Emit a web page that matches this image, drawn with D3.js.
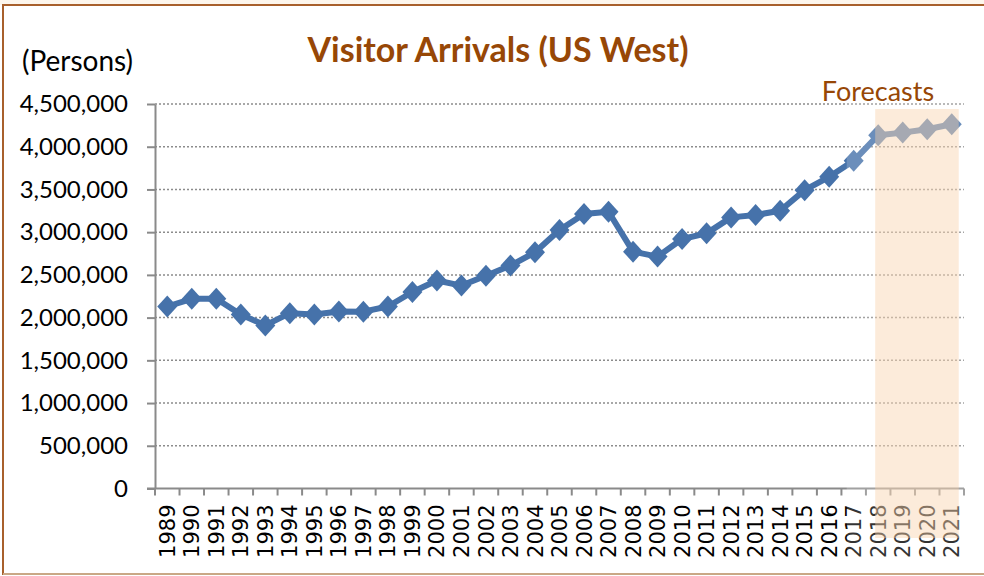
<html lang="en">
<head>
    <title>Visitor Arrivals (US West)</title>
    <style>
        body { margin: 0; background: #fff; }
        .grid line { stroke: #8c8c8c; stroke-width: 1.5px; stroke-dasharray: 2,2; }
        .axis path, .axis line { stroke: #8a8a8a; stroke-width: 2px; }
    </style>
</head>
<body>
<div id="chart"></div>
<script src="https://d3js.org/d3.v7.min.js"></script>
<script>
    const years = ["1989", "1990", "1991", "1992", "1993", "1994", "1995", "1996", "1997", "1998",
        "1999", "2000", "2001", "2002", "2003", "2004", "2005", "2006", "2007", "2008",
        "2009", "2010", "2011", "2012", "2013", "2014", "2015", "2016", "2017", "2018",
        "2019", "2020", "2021"];
    const arrivals = [2130000, 2220000, 2220000, 2037000, 1909000, 2052000, 2037000, 2072000, 2070000, 2130000,
        2300000, 2434000, 2375000, 2489000, 2609000, 2764000, 3025000, 3212000, 3239000, 2772000,
        2714000, 2920000, 2986000, 3173000, 3201000, 3251000, 3492000, 3648000, 3835000, 4135000,
        4165000, 4205000, 4263000];
    const forecastYears = ["2018", "2019", "2020", "2021"];
    const yTicks = [0, 500000, 1000000, 1500000, 2000000, 2500000, 3000000, 3500000, 4000000, 4500000];

    const width = 984, height = 576;
    const svg = d3.select("#chart").append("svg")
        .attr("width", width).attr("height", height);

    // frame
    svg.append("rect").attr("x", 0).attr("y", 0).attr("width", width).attr("height", 5).attr("fill", "#fdf6ec");
    svg.append("rect")
        .attr("x", 3).attr("y", 5).attr("width", width).attr("height", 569)
        .attr("fill", "none").attr("stroke", "#a8602c").attr("stroke-width", 2);
    svg.append("line").attr("x1", 3).attr("x2", width).attr("y1", 574).attr("y2", 574)
        .attr("stroke", "#c9a886").attr("stroke-width", 2);

    const x = d3.scaleBand().domain(years).range([155, 964]);
    const y = d3.scaleLinear().domain([0, 4500000]).range([488.5, 104]);
    const cx = d => x(d) + x.bandwidth() / 2;

    // gridlines
    svg.append("g").attr("class", "grid")
        .selectAll("line").data(yTicks.slice(1)).enter().append("line")
        .attr("x1", 155).attr("x2", 964)
        .attr("y1", d => y(d)).attr("y2", d => y(d));

    // y axis
    const yAxis = svg.append("g").attr("class", "axis")
        .attr("transform", "translate(155,0)")
        .call(d3.axisLeft(y).tickValues(yTicks).tickSize(8).tickSizeOuter(0).tickFormat(d3.format(",")));
    yAxis.selectAll("text")
        .attr("x", -27).attr("font-family", "Lato").attr("font-size", 24).attr("fill", "#000");

    // x axis, ticks at category boundaries
    const xAxis = svg.append("g").attr("class", "axis")
        .attr("transform", "translate(0," + y(0) + ")");
    xAxis.append("line").attr("x1", 147).attr("x2", 964).attr("y1", 0).attr("y2", 0);
    xAxis.selectAll(".tk").data(years.concat(["end"])).enter().append("line")
        .attr("class", "tk")
        .attr("x1", d => d === "end" ? 964 : x(d)).attr("x2", d => d === "end" ? 964 : x(d))
        .attr("y1", 0).attr("y2", 7);
    xAxis.selectAll("text").data(years).enter().append("text")
        .attr("transform", d => "translate(" + cx(d) + ",16) rotate(-90)")
        .attr("text-anchor", "end").attr("dy", "0.36em")
        .attr("font-family", "DejaVu Sans").attr("font-size", 21).attr("fill", "#000")
        .text(d => d);

    // series
    const line = d3.line().x((d, i) => cx(years[i])).y(d => y(d));
    svg.append("path").datum(arrivals)
        .attr("d", line).attr("fill", "none")
        .attr("stroke", "#4672aa").attr("stroke-width", 6).attr("stroke-linejoin", "round");
    const diamond = "M0,-11L10,0L0,11L-10,0Z";
    svg.append("g").selectAll("path").data(arrivals).enter().append("path")
        .attr("d", diamond)
        .attr("transform", (d, i) => "translate(" + cx(years[i]) + "," + y(d) + ")")
        .attr("fill", "#4672aa");

    // faded region and forecast highlight
    svg.append("rect")
        .attr("x", cx("2017") - 7).attr("y", 100).attr("width", 124).attr("height", 462)
        .attr("fill", "#fff").attr("opacity", 0.2);
    svg.append("rect")
        .attr("x", cx(forecastYears[0]) - 3).attr("y", 109)
        .attr("width", cx(forecastYears[forecastYears.length - 1]) - cx(forecastYears[0]) + 10).attr("height", 429)
        .attr("fill", "#f7cfa8").attr("opacity", 0.42);

    // texts
    svg.append("text").attr("x", 498).attr("y", 62).attr("text-anchor", "middle")
        .attr("font-family", "Lato").attr("font-weight", "bold").attr("font-size", 34)
        .attr("fill", "#974706").text("Visitor Arrivals (US West)");
    svg.append("text").attr("x", 22).attr("y", 71)
        .attr("font-family", "Lato").attr("font-size", 28).attr("fill", "#000").text("(Persons)");
    svg.append("text").attr("x", 878).attr("y", 101).attr("text-anchor", "middle")
        .attr("font-family", "Lato").attr("font-size", 27).attr("fill", "#974706").text("Forecasts");
</script>
</body>
</html>
